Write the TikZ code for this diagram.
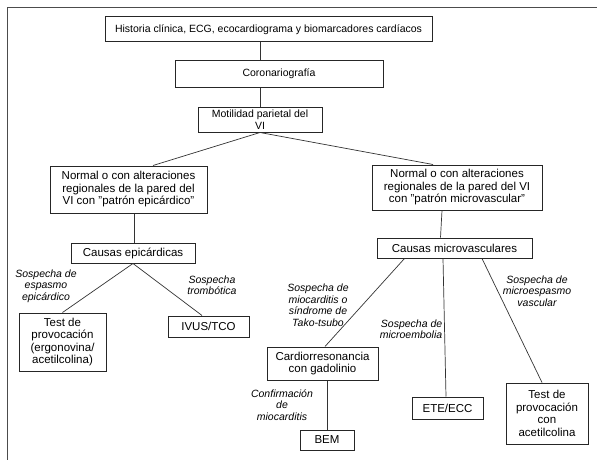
\documentclass[tikz,border=0pt]{standalone}
\usepackage{fontspec}
\setmainfont{Liberation Sans}
\tikzset{top node/.style={rectangle,draw=black!85,line width=1pt,inner sep=0pt,align=center,
                          font=\fontsize{10.5}{12}\selectfont},
         main node/.style={rectangle,draw=black!85,line width=1pt,inner sep=0pt,align=center,
                          font=\fontsize{11.5}{12.5}\selectfont},
         label node/.style={inner sep=0pt,align=center,font=\fontsize{10.5}{11.5}\selectfont\itshape},
         conn/.style={draw=black!80,line width=0.7pt},
            }
\begin{document}
\begin{tikzpicture}[x=1pt,y=-1pt]
    \useasboundingbox (0,0) rectangle (597,460);
    \draw[black!70,line width=0.9pt] (7,460) -- (7,7) -- (597,7);

    \node[top node,minimum width=327pt,minimum height=25pt] (hist) at (268.5,29.5) {Historia clínica, ECG, ecocardiograma y biomarcadores cardíacos};
    \node[top node,minimum width=208pt,minimum height=26pt] (coro) at (279,74) {Coronariografía};
    \node[top node,minimum width=124pt,minimum height=25pt] (moti) at (260,119.5) {Motilidad parietal del\\VI};

    \node[main node,minimum width=157pt,minimum height=47pt] (epi) at (128.5,189.5) {Normal o con alteraciones\\regionales de la pared del\\VI con "patrón epicárdico"};
    \node[main node,minimum width=170pt,minimum height=45pt] (micro) at (457,187.5) {Normal o con alteraciones\\regionales de la pared del VI\\con "patrón microvascular"};
    \node[main node,minimum width=124pt,minimum height=20pt] (cepi) at (133,253) {Causas epicárdicas};
    \node[main node,minimum width=155pt,minimum height=20pt] (cmic) at (454.5,248) {Causas microvasculares};

    \node[main node,minimum width=87pt,minimum height=58pt] (test1) at (62.5,342) {Test de\\provocación\\(ergonovina/\\acetilcolina)};
    \node[main node,minimum width=81pt,minimum height=21pt] (ivus) at (208.5,326.5) {IVUS/TCO};
    \node[main node,minimum width=111pt,minimum height=33pt] (cmr) at (322.5,363.5) {Cardiorresonancia\\con gadolinio};
    \node[main node,minimum width=54pt,minimum height=20pt] (bem) at (327,440) {BEM};
    \node[main node,minimum width=71pt,minimum height=22pt] (ete) at (447.5,408) {ETE/ECC};
    \node[main node,minimum width=82pt,minimum height=61pt] (test2) at (547,413.5) {Test de\\provocación\\con\\acetilcolina};

    \node[label node] (s1) at (46,286) {Sospecha de\\espasmo\\epicárdico};
    \node[label node] (s2) at (212,285) {Sospecha\\trombótica};
    \node[label node] (s3) at (318,305) {Sospecha de\\miocarditis o\\síndrome de\\Tako-tsubo};
    \node[label node,align=right] (s4) at (411,329) {Sospecha de\\microembolia};
    \node[label node] (s5) at (537,291) {Sospecha de\\microespasmo\\vascular};
    \node[label node] (s6) at (282,405) {Confirmación\\de\\miocarditis};

    \path[conn]
    (hist.south -| moti.north) edge (coro.north -| moti.north)
    (coro.south -| moti.north) edge (moti.north)
    (moti.south) edge ([xshift=24.5pt]epi.north)
    (moti.south) edge ([xshift=-24pt]micro.north)
    ([xshift=5.5pt]epi.south) edge ([xshift=1pt]cepi.north)
    ([xshift=-15pt]micro.south) edge ([xshift=-14pt]cmic.north);

    \path[conn]
    (cepi.south) edge (test1.north)
    (cepi.south) edge ([xshift=-6.5pt]ivus.north)
    ([xshift=-50pt]cmic.south) edge ([xshift=2.5pt]cmr.north)
    ([xshift=-11.5pt]cmic.south) edge ([xshift=-1.5pt]ete.north)
    ([xshift=27.5pt]cmic.south) edge ([xshift=-5pt]test2.north)
    ([xshift=4.5pt]cmr.south) edge (bem.north);
\end{tikzpicture}
\end{document}
